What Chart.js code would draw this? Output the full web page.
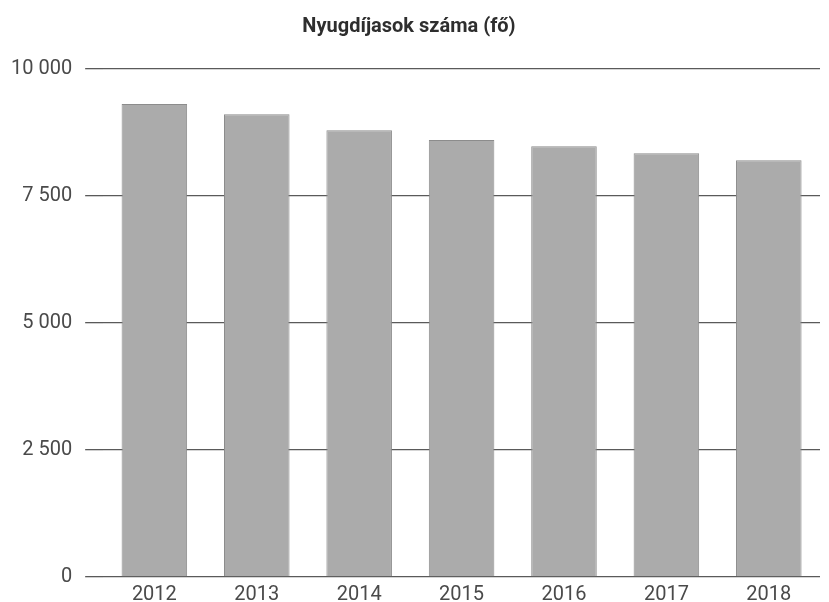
<!DOCTYPE html>
<html>
<head>
<meta charset="utf-8">
<script src="https://cdn.jsdelivr.net/npm/chart.js@4"></script>
<style>
  html, body { margin: 0; padding: 0; background: #fff; }
  #wrap { width: 829px; height: 602px; }
</style>
</head>
<body>
<div id="wrap"><canvas id="c" width="829" height="602"></canvas></div>
<script>
/* Nyugdíjasok száma (fő) — simple gray bar chart, 2012–2018 */

const TITLE = "Nyugdíjasok száma (fő)";
const YEARS = ["2012", "2013", "2014", "2015", "2016", "2017", "2018"];
const PENSIONERS = [9310, 9110, 8795, 8600, 8480, 8340, 8205];
const Y_TICKS = [0, 2500, 5000, 7500, 10000];

const INK = "#4a4a4a";
const GRID = "#5a5a5a";

// "10000" -> "10 000"
function fmt(n) {
  return String(n).replace(/\B(?=(\d{3})+(?!\d))/g, " ");
}

Chart.defaults.font.family = "Roboto, 'Noto Sans', sans-serif";

new Chart(document.getElementById("c"), {
  type: "bar",
  data: {
    labels: YEARS,
    datasets: [{
      data: PENSIONERS,
      backgroundColor: "#ababab",
      borderColor: "#8c8c8c",
      borderWidth: 1,
      barPercentage: 0.8,
      categoryPercentage: 0.8,
    }],
  },
  options: {
    responsive: false,
    animation: false,
    layout: { padding: { top: 0, right: 9, bottom: -7, left: -2 } },
    plugins: {
      legend: { display: false },
      tooltip: { enabled: false },
      title: {
        display: true,
        text: TITLE,
        color: "#2e2e2e",
        font: { size: 20, weight: "bold" },
        padding: { top: 15, bottom: 30 },
      },
    },
    scales: {
      x: {
        grid: { display: false },
        border: { display: false },
        ticks: { color: INK, font: { size: 20 }, padding: -2 },
      },
      y: {
        min: 0,
        max: 10000,
        afterBuildTicks: axis => { axis.ticks = Y_TICKS.map(v => ({ value: v })); },
        grid: { color: GRID, lineWidth: 1.3, tickLength: 18, tickColor: GRID },
        border: { display: false },
        ticks: { color: INK, font: { size: 20 }, padding: 13, callback: v => fmt(v) },
      },
    },
  },
});
</script>
</body>
</html>
